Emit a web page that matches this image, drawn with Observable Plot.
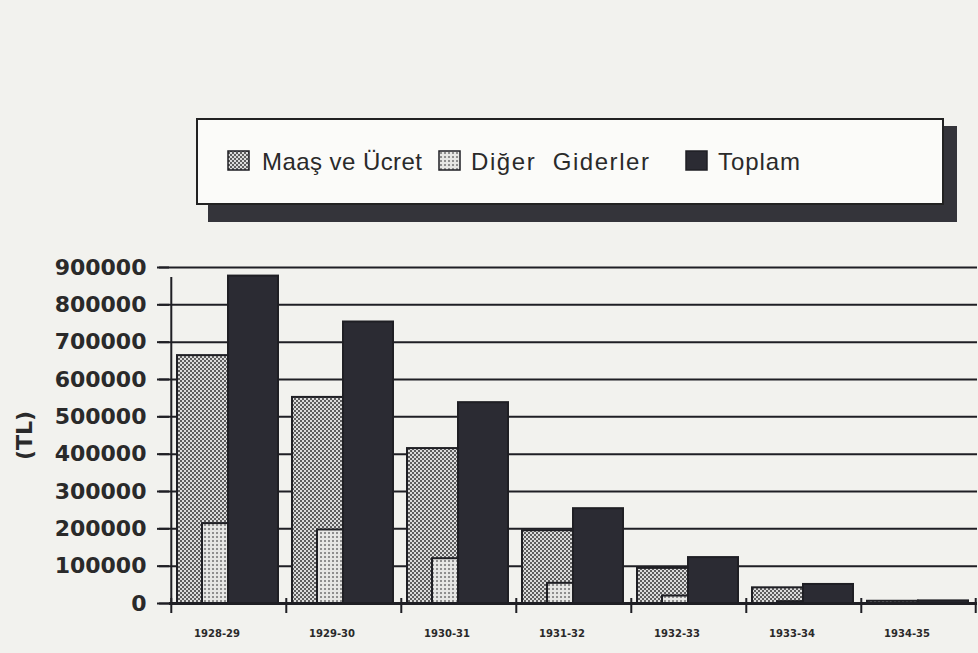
<!DOCTYPE html>
<html>
<head>
<meta charset="utf-8">
<script src="https://cdn.jsdelivr.net/npm/d3@7"></script>
<script src="https://cdn.jsdelivr.net/npm/@observablehq/plot@0.6"></script>
<style>
  html, body { margin: 0; padding: 0; background: #f2f2ee; }
  #wrap { position: relative; width: 978px; height: 653px; overflow: hidden; background: #f2f2ee; }
  #wrap > svg.plot { position: absolute; left: 0; top: 0; }
  #legend { position: absolute; left: 0; top: 0; }
</style>
</head>
<body>
<svg width="0" height="0" style="position:absolute">
  <defs>
    <pattern id="pMaas" width="4" height="4" patternUnits="userSpaceOnUse">
      <rect width="4" height="4" fill="#dcdcdc"></rect>
      <rect x="0" y="0" width="2" height="2" fill="#5e5e5e"></rect>
      <rect x="2" y="2" width="2" height="2" fill="#5e5e5e"></rect>
    </pattern>
    <pattern id="pDiger" width="4" height="4" patternUnits="userSpaceOnUse">
      <rect width="4" height="4" fill="#e6e6e4"></rect>
      <rect x="0" y="0" width="2" height="2" fill="#8e8e8e"></rect>
    </pattern>
  </defs>
</svg>
<div id="wrap">
  <svg id="legend" width="978" height="240">
    <rect x="208" y="126" width="749" height="96" fill="#34343a"></rect>
    <rect x="197" y="119" width="746" height="85" fill="#fbfbf9" stroke="#222" stroke-width="2"></rect>
  </svg>
</div>
<script>
const years = ["1928-29", "1929-30", "1930-31", "1931-32", "1932-33", "1933-34", "1934-35"];
const maas   = [664000, 552000, 415000, 195000, 94000, 42000, 6000];
const diger  = [214000, 197000, 120000, 54000, 20000, 5000, 1000];
const toplam = [877000, 754000, 538000, 254000, 123000, 51000, 7000];
const yTicks = [0, 100000, 200000, 300000, 400000, 500000, 600000, 700000, 800000, 900000];
const seriesNames = ["Maaş ve Ücret", "Diğer  Giderler", "Toplam"];
const yLabel = "(TL)";

const rows = years.map((year, i) => ({year, maas: maas[i], diger: diger[i], toplam: toplam[i]}));

const W = 978, H = 653, mL = 169, mR = 1, mT = 267, mB = 50;
const bw = (W - mL - mR) / years.length;
const ink = "#1f1f24";

const chart = Plot.plot({
  width: W, height: H,
  marginLeft: mL, marginRight: mR, marginTop: mT, marginBottom: mB,
  style: {background: "transparent", fontFamily: "DejaVu Sans", color: ink, overflow: "visible"},
  x: {domain: years, padding: 0, axis: null},
  y: {domain: [0, 900000], axis: null},
  marks: [
    Plot.ruleY(yTicks, {stroke: ink, strokeWidth: 2, insetLeft: -10}),
    Plot.barY(rows, {x: "year", y: "maas", fill: "url(#pMaas)", stroke: ink, strokeWidth: 2, insetLeft: 6, insetRight: 58}),
    Plot.barY(rows, {x: "year", y: "diger", fill: "url(#pDiger)", stroke: ink, strokeWidth: 2, insetLeft: 31, insetRight: 58}),
    Plot.barY(rows, {x: "year", y: "toplam", fill: "#2b2b33", stroke: ink, strokeWidth: 2, insetLeft: 57, insetRight: 8}),
    Plot.ruleY([0], {stroke: ink, strokeWidth: 3}),
    Plot.ruleX(years, {x: d => d, y1: 0, y2: 0, dx: -bw / 2, insetTop: -5, insetBottom: -10, stroke: ink, strokeWidth: 2}),
    Plot.ruleX([years[years.length - 1]], {x: d => d, y1: 0, y2: 0, dx: bw / 2 - 1, insetTop: -5, insetBottom: -10, stroke: ink, strokeWidth: 2}),
    Plot.ruleX([years[0]], {x: d => d, y1: 0, y2: 900000, dx: -bw / 2, insetBottom: -10, stroke: ink, strokeWidth: 2}),
    Plot.axisY({ticks: yTicks, tickSize: 12, tickPadding: 11, tickFormat: d => String(d), fontSize: 22, fontWeight: "bold", strokeWidth: 2, label: null, fill: "#2a2a2a"}),
    Plot.axisX({ticks: years, tickSize: 0, tickPadding: 26, fontSize: 10, fontWeight: "bold", dx: -12, label: null, fill: "#2a2a2a", style: "letter-spacing:0.5px"}),
    Plot.text([yLabel], {frameAnchor: "left", textAnchor: "middle", rotate: -90, dx: -145, fontSize: 22, fontWeight: "bold", fill: "#2a2a2a", style: "letter-spacing:2px"})
  ]
});
chart.classList.add("plot");
document.getElementById("wrap").prepend(chart);

// legend (added above the plot area)
const lg = d3.select("#legend");
const items = [
  {name: seriesNames[0], fill: "url(#pMaas)", sx: 228, tx: 262, tw: 160},
  {name: seriesNames[1], fill: "url(#pDiger)", sx: 439, tx: 471, tw: 178},
  {name: seriesNames[2], fill: "#2b2b33", sx: 686, tx: 718, tw: 82}
];
for (const it of items) {
  lg.append("rect").attr("x", it.sx).attr("y", 151).attr("width", 21).attr("height", 19)
    .attr("fill", it.fill).attr("stroke", ink).attr("stroke-width", 1.5);
  lg.append("text").attr("x", it.tx).attr("y", 170).attr("font-family", "Liberation Sans, Arial, sans-serif")
    .attr("font-size", 24).attr("fill", "#2a2a2a").attr("xml:space", "preserve")
    .style("white-space", "pre")
    .attr("textLength", it.tw).attr("lengthAdjust", "spacing").text(it.name);
}
</script>
</body>
</html>
